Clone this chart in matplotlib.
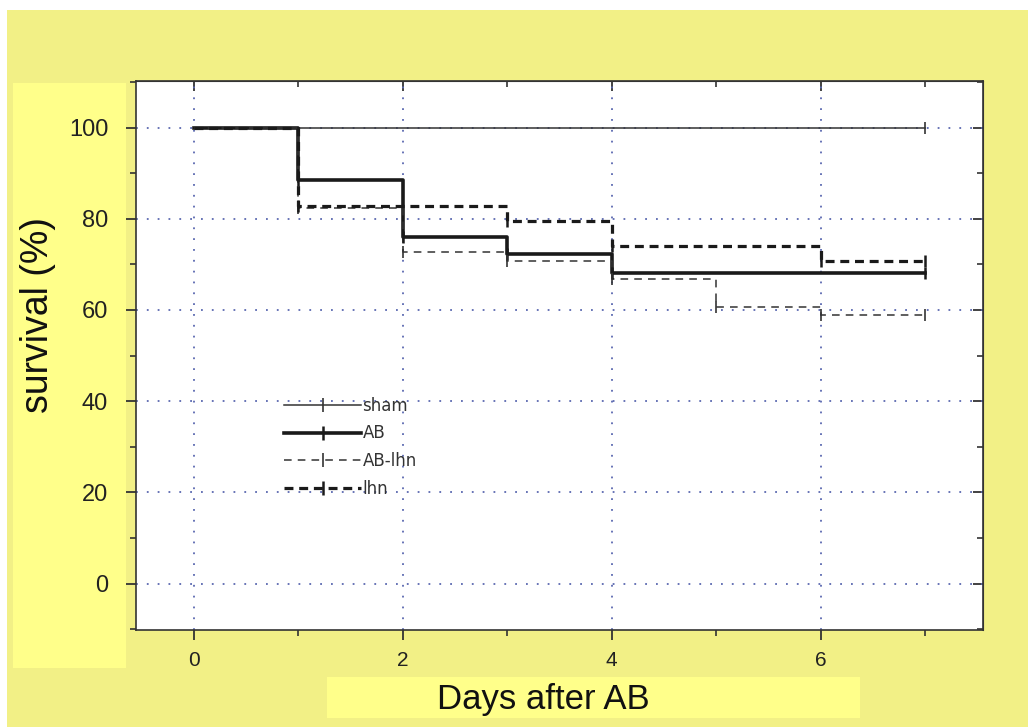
import matplotlib
matplotlib.use("Agg")
import matplotlib.pyplot as plt
from matplotlib.patches import Rectangle
from matplotlib.lines import Line2D
from matplotlib.ticker import MultipleLocator

# ---- data ----
sham_t = [0, 7]
sham_s = [100, 100]
ab_t = [0, 1, 2, 3, 4, 7]
ab_s = [100, 88.4, 76.0, 72.2, 68.1, 68.1]
ablhn_t = [0, 1, 2, 3, 4, 5, 6, 7]
ablhn_s = [100, 82.4, 72.7, 70.7, 66.9, 60.7, 58.8, 58.8]
lhn_t = [0, 1, 3, 4, 6, 7]
lhn_s = [100, 82.8, 79.6, 74.0, 70.7, 70.7]
labels = ["sham", "AB", "AB-lhn", "lhn"]
x_ticks = [0, 2, 4, 6]
y_ticks = [0, 20, 40, 60, 80, 100]

W, H = 1028, 727
fig = plt.figure(figsize=(W / 100, H / 100), dpi=100, facecolor="white")

YEL = "#F2F086"
LYEL = "#FFFF8A"
def frect(x0, y0, x1, y1, color, z):
    fig.patches.append(Rectangle((x0 / W, 1 - y1 / H), (x1 - x0) / W, (y1 - y0) / H,
                                 transform=fig.transFigure, facecolor=color,
                                 edgecolor="none", zorder=z))
frect(7, 10, W, H, YEL, -3)
frect(13, 83, 126, 668, LYEL, -2)
frect(327, 677, 860, 718, LYEL, -2)

ax = fig.add_axes([136 / W, 1 - 630 / H, (983 - 136) / W, (630 - 81) / H])
ax.set_facecolor("white")
ax.set_xlim(-0.55, 7.55)
ax.set_ylim(-10.15, 110.2)

gridc = "#5a68b0"
for x in x_ticks:
    ax.axvline(x, color=gridc, lw=1.3, ls=(0, (1, 5)), zorder=1)
for y in y_ticks:
    ax.axhline(y, color=gridc, lw=1.3, ls=(0, (1, 5)), zorder=1)

lc = "#1a1a1a"
styles = [
    dict(lw=1.1, ls="-", color="#333333"),
    dict(lw=2.6, ls="-", color=lc),
    dict(lw=1.1, ls=(0, (5, 4)), color="#333333"),
    dict(lw=2.3, ls=(0, (2.8, 1.8)), color=lc),
]
series = [(sham_t, sham_s), (ab_t, ab_s), (ablhn_t, ablhn_s), (lhn_t, lhn_s)]
handles = []
for (t, s), st, lab in zip(series, styles, labels):
    ax.step(t, s, where="post", zorder=3, **st)
    mw = 1.2 if st["lw"] < 2 else 1.8
    ax.plot(t[1:], s[1:], ls="none", marker="|", ms=9, mew=mw, color=st["color"], zorder=4)
    handles.append(Line2D([], [], marker="|", ms=10, mew=mw, **st))

leg = ax.legend(handles, labels, loc="upper left", bbox_to_anchor=(0.175, 0.425),
                frameon=False, numpoints=1, handlelength=4.6, handletextpad=0.1,
                labelspacing=0.58, borderpad=0, borderaxespad=0,
                prop=dict(family="DejaVu Sans", size=12))
for txt in leg.get_texts():
    txt.set_color("#333333")

for sp in ax.spines.values():
    sp.set_color("#333333")
    sp.set_linewidth(1.2)

ax.set_xticks(x_ticks)
ax.xaxis.set_minor_locator(MultipleLocator(1))
ax.set_yticks(y_ticks)
ax.yaxis.set_minor_locator(MultipleLocator(10))
ax.tick_params(axis="x", which="major", direction="out", length=7, width=1.3,
               colors="#333333", labelcolor="#222222", pad=8, labelsize=15,
               top=False)
ax.tick_params(axis="x", which="minor", direction="out", length=4, width=1.2,
               colors="#333333", top=False)
ax.tick_params(axis="y", which="major", direction="out", length=7, width=1.3,
               colors="#333333", labelcolor="#222222", pad=13, labelsize=17)
ax.tick_params(axis="y", which="minor", direction="out", length=4, width=1.2,
               colors="#333333")
for lab in ax.get_xticklabels() + ax.get_yticklabels():
    lab.set_family("Liberation Sans")

sec_x = ax.secondary_xaxis("top")
sec_x.set_xticks(x_ticks)
sec_x.xaxis.set_minor_locator(MultipleLocator(1))
sec_x.tick_params(which="major", direction="in", length=7, width=1.3, colors="#333333", labeltop=False)
sec_x.tick_params(which="minor", direction="in", length=4, width=1.2, colors="#333333")
sec_x.spines["top"].set_color("#333333")
sec_y = ax.secondary_yaxis("right")
sec_y.set_yticks(y_ticks)
sec_y.yaxis.set_minor_locator(MultipleLocator(10))
sec_y.tick_params(which="major", direction="in", length=7, width=1.3, colors="#333333", labelright=False)
sec_y.tick_params(which="minor", direction="in", length=4, width=1.2, colors="#333333")
sec_y.spines["right"].set_color("#333333")

fig.text(38 / W, 1 - 315 / H, "survival (%)", rotation=90, ha="center", va="center",
         fontsize=27, family="Liberation Sans", color="#111111", zorder=5)
fig.text(543 / W, 1 - 700 / H, "Days after AB", ha="center", va="center",
         fontsize=25, family="Liberation Sans", color="#111111", zorder=5)

fig.savefig("out.png", dpi=100, facecolor="white")
